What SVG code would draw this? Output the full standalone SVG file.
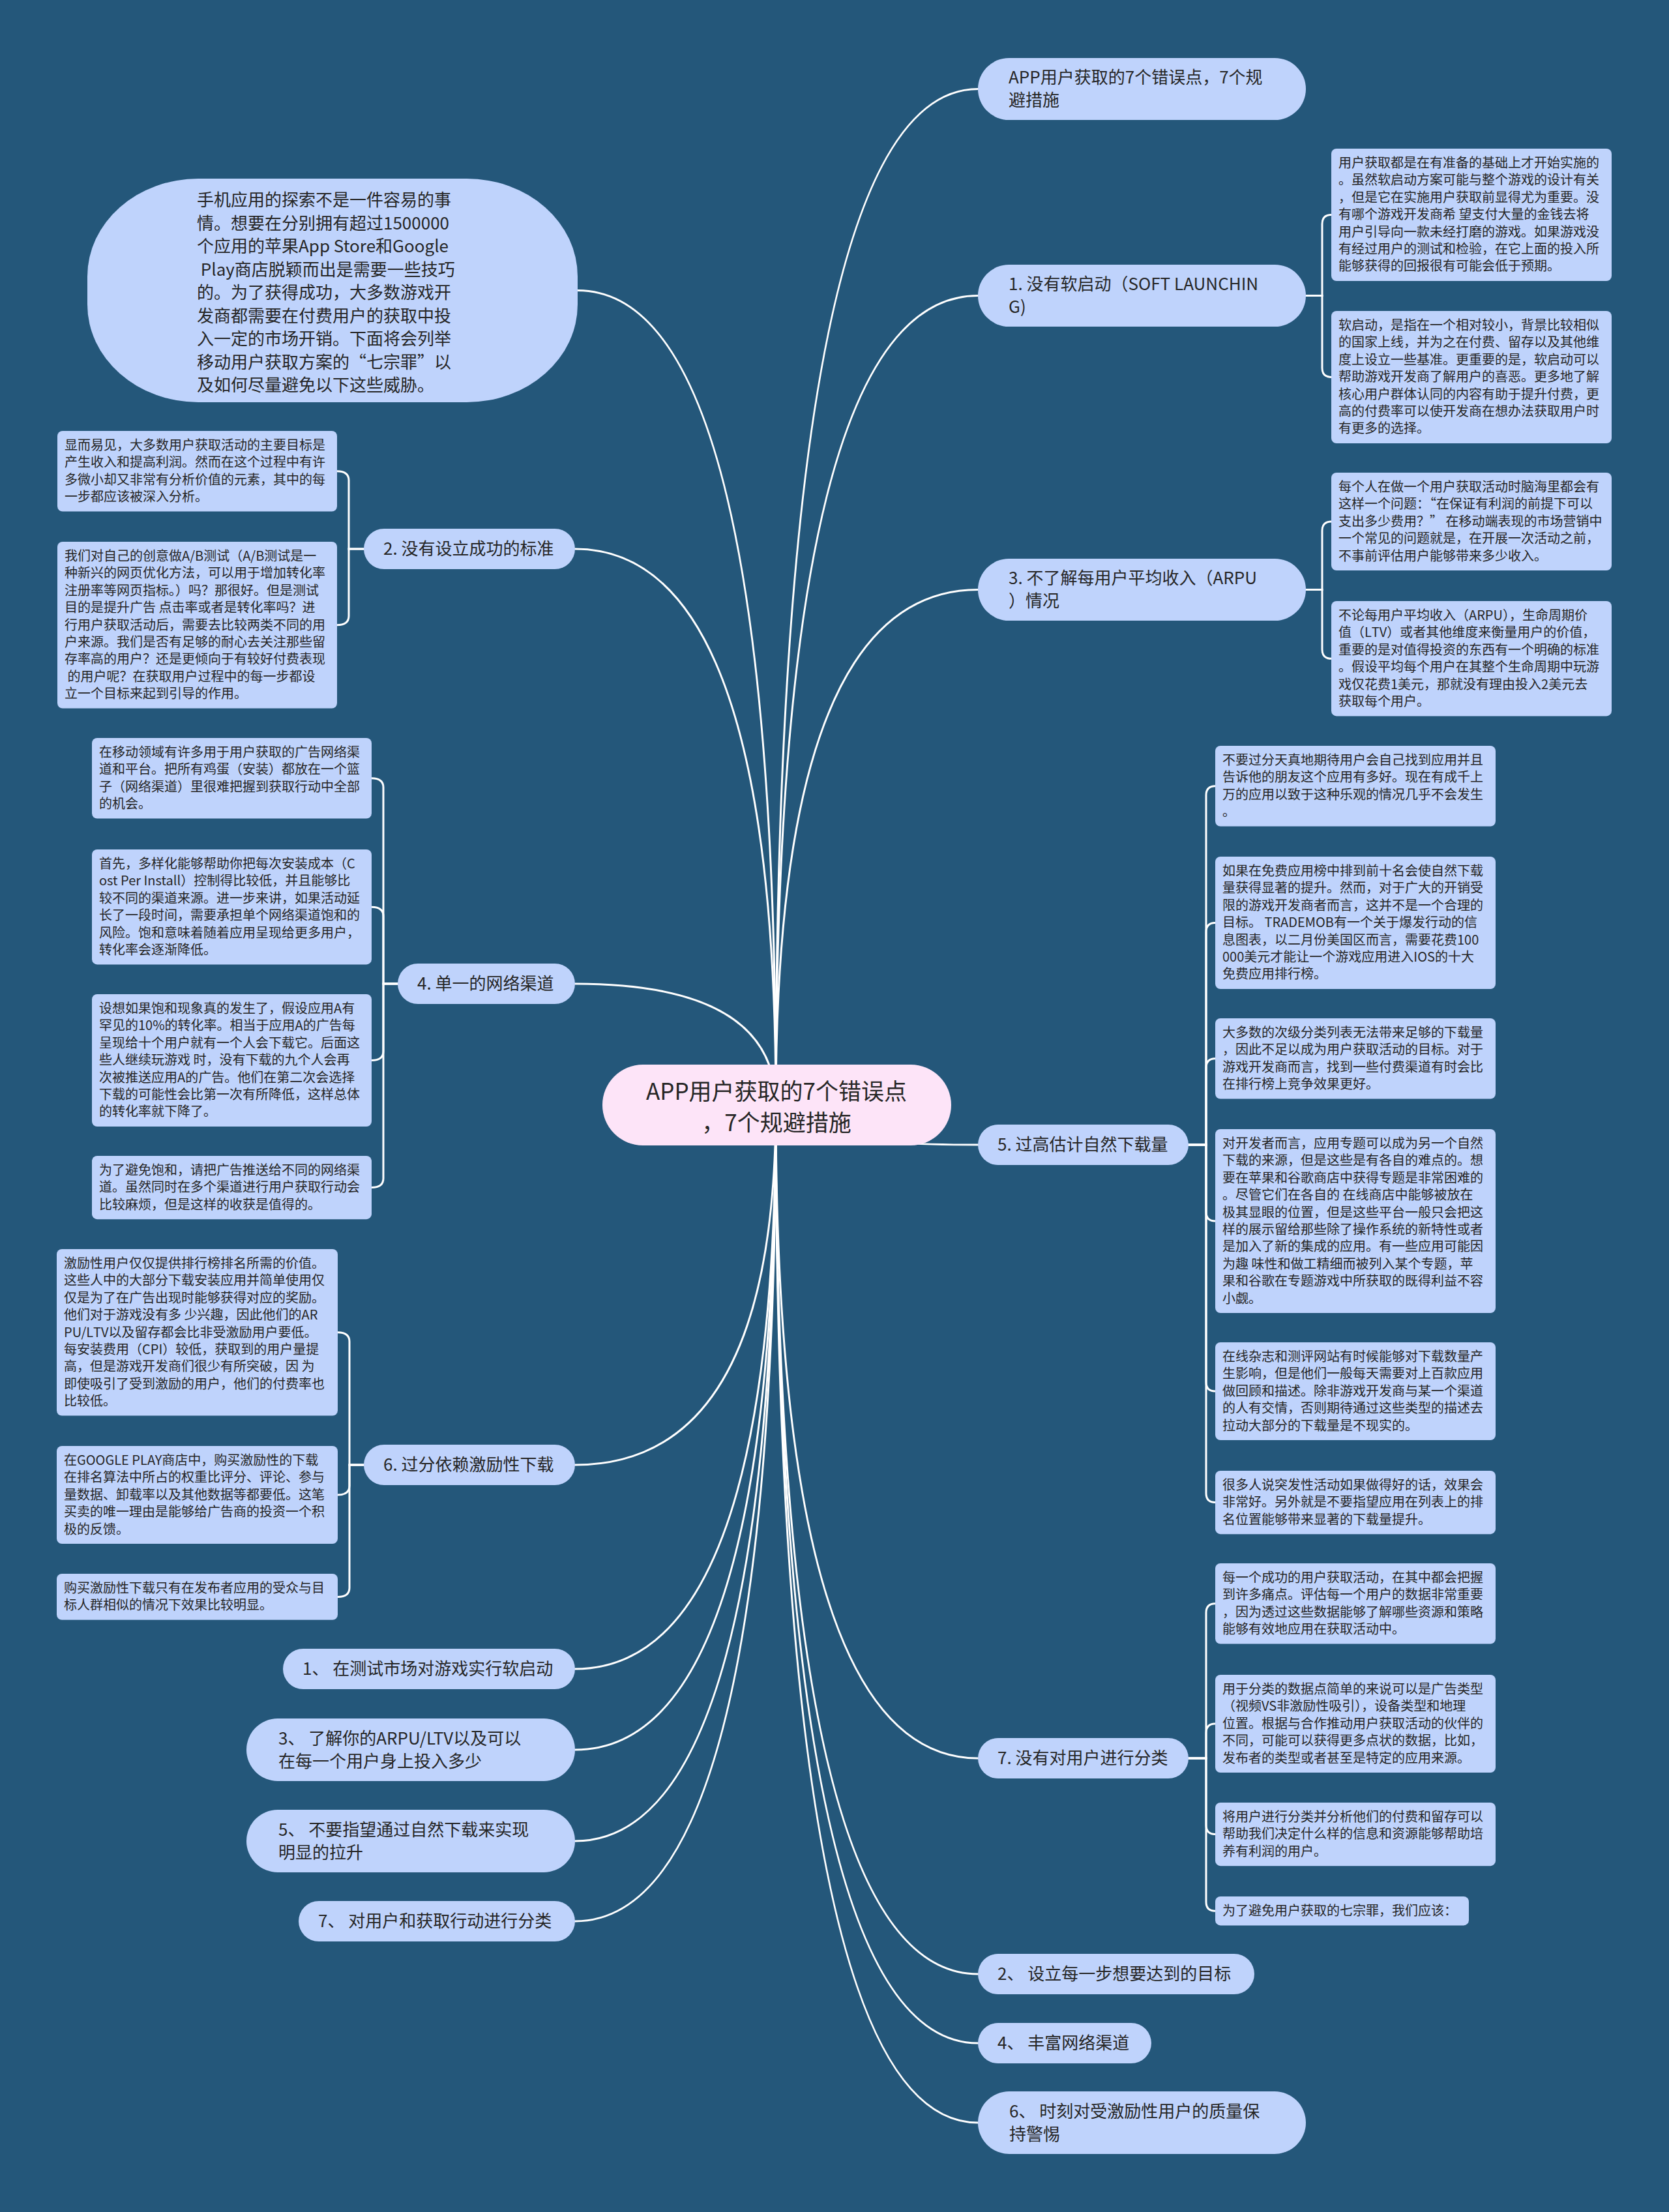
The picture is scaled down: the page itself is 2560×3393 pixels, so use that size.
<svg xmlns="http://www.w3.org/2000/svg" width="2560" height="3393" viewBox="0 0 2560 3393">
<style>
.box{fill:#bfd3fc}
.root{fill:#fde4f8}
.t{font-family:"Noto Sans CJK SC","Noto Sans",sans-serif;fill:#262626}
.lt{font-size:20px}
.mt{font-size:26px}
.rt{font-size:35px}
.c{fill:none;stroke:#ffffff;stroke-width:3;stroke-linecap:round}
</style>
<rect x="0" y="0" width="2560" height="3393" fill="#24577a"/>

<g id="connectors" class="c">
  <path d="M1190,1695 Q1190,136.5 1500,136.5"/>
  <path d="M1190,1695 Q1190,453.5 1500,453.5"/>
  <path d="M1190,1695 Q1190,904.5 1500,904.5"/>
  <path d="M1190,1695 Q1190,1756 1500,1756"/>
  <path d="M1190,1695 Q1190,2697 1500,2697"/>
  <path d="M1190,1695 Q1190,3028 1500,3028"/>
  <path d="M1190,1695 Q1190,3134 1500,3134"/>
  <path d="M1190,1695 Q1190,3256 1500,3256"/>
  <path d="M1190,1695 Q1190,445.5 886,445.5"/>
  <path d="M1190,1695 Q1190,842 882,842"/>
  <path d="M1190,1695 Q1190,1509 882,1509"/>
  <path d="M1190,1695 Q1190,2247 882,2247"/>
  <path d="M1190,1695 Q1190,2560 882,2560"/>
  <path d="M1190,1695 Q1190,2684 882,2684"/>
  <path d="M1190,1695 Q1190,2824 882,2824"/>
  <path d="M1190,1695 Q1190,2947 882,2947"/>

  <path d="M2003,453.5 H2028 V343.4 Q2028,329.4 2042,329.4"/>
  <path d="M2003,453.5 H2028 V564.4 Q2028,578.4 2042,578.4"/>
  <path d="M2003,904.5 H2028 V814 Q2028,800 2042,800"/>
  <path d="M2003,904.5 H2028 V996.2 Q2028,1010.2 2042,1010.2"/>

  <path d="M1823,1756 H1850 V1219.8 Q1850,1205.8 1864,1205.8"/>
  <path d="M1823,1756 H1850 V1429.4 Q1850,1415.4 1864,1415.4"/>
  <path d="M1823,1756 H1850 V1637.8 Q1850,1623.8 1864,1623.8"/>
  <path d="M1823,1756 H1850 V1859 Q1850,1873 1864,1873"/>
  <path d="M1823,1756 H1850 V2120 Q1850,2134 1864,2134"/>
  <path d="M1823,1756 H1850 V2290.6 Q1850,2304.6 1864,2304.6"/>

  <path d="M1823,2697 H1850 V2473.8 Q1850,2459.8 1864,2459.8"/>
  <path d="M1823,2697 H1850 V2658 Q1850,2644 1864,2644"/>
  <path d="M1823,2697 H1850 V2799.6 Q1850,2813.6 1864,2813.6"/>
  <path d="M1823,2697 H1850 V2917.2 Q1850,2931.2 1864,2931.2"/>

  <path d="M558,842 H535 V736.8 Q535,722.8 517,722.8"/>
  <path d="M558,842 H535 V944.8 Q535,958.8 517,958.8"/>

  <path d="M610,1509 H588 V1207.8 Q588,1193.8 570,1193.8"/>
  <path d="M610,1509 H588 V1405.2 Q588,1391.2 570,1391.2"/>
  <path d="M610,1509 H588 V1612.4 Q588,1626.4 570,1626.4"/>
  <path d="M610,1509 H588 V1807.6 Q588,1821.6 570,1821.6"/>

  <path d="M558,2247 H536 V2057.8 Q536,2043.8 518,2043.8"/>
  <path d="M558,2247 H536 V2279 Q536,2293 518,2293"/>
  <path d="M558,2247 H536 V2435.4 Q536,2449.4 518,2449.4"/>
</g>

<!-- root -->
<g id="root" transform="translate(924,1633)">
  <rect class="root" x="0" y="0" width="535" height="124" rx="62"/>
  <text class="t rt" text-anchor="middle"><tspan x="267" y="53.5">APP用户获取的7个错误点</tspan><tspan x="267" y="102">，7个规避措施</tspan></text>
</g>

<!-- right main nodes -->
<g id="n-title" transform="translate(1500,89)">
  <rect class="box" width="503" height="95" rx="47.5"/>
  <text class="t mt"><tspan x="47" y="39">APP用户获取的7个错误点，7个规</tspan><tspan x="47" y="74">避措施</tspan></text>
</g>
<g id="n1" transform="translate(1500,406)">
  <rect class="box" width="503" height="95" rx="47.5"/>
  <text class="t mt"><tspan x="47" y="39">1. 没有软启动（SOFT LAUNCHIN</tspan><tspan x="47" y="74">G)</tspan></text>
</g>
<g id="n3" transform="translate(1500,857)">
  <rect class="box" width="503" height="95" rx="47.5"/>
  <text class="t mt"><tspan x="47" y="39">3. 不了解每用户平均收入（ARPU</tspan><tspan x="47" y="74">）情况</tspan></text>
</g>
<g id="n5" transform="translate(1500,1725)">
  <rect class="box" width="323" height="62" rx="31"/>
  <text class="t mt" x="30" y="40">5. 过高估计自然下载量</text>
</g>
<g id="n7" transform="translate(1500,2666)">
  <rect class="box" width="323" height="62" rx="31"/>
  <text class="t mt" x="30" y="40">7. 没有对用户进行分类</text>
</g>
<g id="s2" transform="translate(1500,2997)">
  <rect class="box" width="424" height="62" rx="31"/>
  <text class="t mt" x="30" y="40">2、 设立每一步想要达到的目标</text>
</g>
<g id="s4" transform="translate(1500,3103)">
  <rect class="box" width="266" height="62" rx="31"/>
  <text class="t mt" x="30" y="40">4、 丰富网络渠道</text>
</g>
<g id="s6" transform="translate(1500,3208)">
  <rect class="box" width="503" height="96" rx="48"/>
  <text class="t mt"><tspan x="48" y="39.5">6、 时刻对受激励性用户的质量保</tspan><tspan x="48" y="74.5">持警惕</tspan></text>
</g>

<!-- left main nodes -->
<g id="intro" transform="translate(134,274)">
  <rect class="box" width="752" height="343" rx="170" ry="150"/>
  <text class="t mt" xml:space="preserve"><tspan x="168" y="42">手机应用的探索不是一件容易的事</tspan><tspan x="168" y="77.5">情。想要在分别拥有超过1500000</tspan><tspan x="168" y="113">个应用的苹果App Store和Google</tspan><tspan x="168" y="148.5"> Play商店脱颖而出是需要一些技巧</tspan><tspan x="168" y="184">的。为了获得成功，大多数游戏开</tspan><tspan x="168" y="219.5">发商都需要在付费用户的获取中投</tspan><tspan x="168" y="255">入一定的市场开销。下面将会列举</tspan><tspan x="168" y="290.5">移动用户获取方案的“七宗罪”以</tspan><tspan x="168" y="326">及如何尽量避免以下这些威胁。</tspan></text>
</g>
<g id="n2" transform="translate(558,811)">
  <rect class="box" width="324" height="62" rx="31"/>
  <text class="t mt" x="30" y="40">2. 没有设立成功的标准</text>
</g>
<g id="n4" transform="translate(610,1478)">
  <rect class="box" width="272" height="62" rx="31"/>
  <text class="t mt" x="30" y="40">4. 单一的网络渠道</text>
</g>
<g id="n6" transform="translate(558,2216)">
  <rect class="box" width="324" height="62" rx="31"/>
  <text class="t mt" x="30" y="40">6. 过分依赖激励性下载</text>
</g>
<g id="s1" transform="translate(434,2529)">
  <rect class="box" width="448" height="62" rx="31"/>
  <text class="t mt" x="30" y="40">1、 在测试市场对游戏实行软启动</text>
</g>
<g id="s3" transform="translate(378,2636)">
  <rect class="box" width="504" height="96" rx="48"/>
  <text class="t mt"><tspan x="49" y="39.5">3、 了解你的ARPU/LTV以及可以</tspan><tspan x="49" y="74.5">在每一个用户身上投入多少</tspan></text>
</g>
<g id="s5" transform="translate(378,2776)">
  <rect class="box" width="504" height="96" rx="48"/>
  <text class="t mt"><tspan x="49" y="39.5">5、 不要指望通过自然下载来实现</tspan><tspan x="49" y="74.5">明显的拉升</tspan></text>
</g>
<g id="s7" transform="translate(458,2916)">
  <rect class="box" width="424" height="62" rx="31"/>
  <text class="t mt" x="30" y="40">7、 对用户和获取行动进行分类</text>
</g>

<!-- leaves of 1 -->
<g id="l1a" transform="translate(2042,228)">
  <rect class="box" width="430" height="203" rx="8"/>
  <text class="t lt"><tspan x="11" y="29">用户获取都是在有准备的基础上才开始实施的</tspan><tspan x="11" y="55.4">。虽然软启动方案可能与整个游戏的设计有关</tspan><tspan x="11" y="81.8">，但是它在实施用户获取前显得尤为重要。没</tspan><tspan x="11" y="108.2">有哪个游戏开发商希 望支付大量的金钱去将</tspan><tspan x="11" y="134.6">用户引导向一款未经打磨的游戏。如果游戏没</tspan><tspan x="11" y="161">有经过用户的测试和检验，在它上面的投入所</tspan><tspan x="11" y="187.4">能够获得的回报很有可能会低于预期。</tspan></text>
</g>
<g id="l1b" transform="translate(2042,477)">
  <rect class="box" width="430" height="203" rx="8"/>
  <text class="t lt"><tspan x="11" y="29">软启动，是指在一个相对较小，背景比较相似</tspan><tspan x="11" y="55.4">的国家上线，并为之在付费、留存以及其他维</tspan><tspan x="11" y="81.8">度上设立一些基准。更重要的是，软启动可以</tspan><tspan x="11" y="108.2">帮助游戏开发商了解用户的喜恶。更多地了解</tspan><tspan x="11" y="134.6">核心用户群体认同的内容有助于提升付费，更</tspan><tspan x="11" y="161">高的付费率可以使开发商在想办法获取用户时</tspan><tspan x="11" y="187.4">有更多的选择。</tspan></text>
</g>

<!-- leaves of 3 -->
<g id="l3a" transform="translate(2042,725)">
  <rect class="box" width="430" height="150" rx="8"/>
  <text class="t lt"><tspan x="11" y="29">每个人在做一个用户获取活动时脑海里都会有</tspan><tspan x="11" y="55.4">这样一个问题：“在保证有利润的前提下可以</tspan><tspan x="11" y="81.8">支出多少费用？” 在移动端表现的市场营销中</tspan><tspan x="11" y="108.2">一个常见的问题就是，在开展一次活动之前，</tspan><tspan x="11" y="134.6">不事前评估用户能够带来多少收入。</tspan></text>
</g>
<g id="l3b" transform="translate(2042,922)">
  <rect class="box" width="430" height="176.4" rx="8"/>
  <text class="t lt"><tspan x="11" y="29">不论每用户平均收入（ARPU），生命周期价</tspan><tspan x="11" y="55.4">值（LTV）或者其他维度来衡量用户的价值，</tspan><tspan x="11" y="81.8">重要的是对值得投资的东西有一个明确的标准</tspan><tspan x="11" y="108.2">。假设平均每个用户在其整个生命周期中玩游</tspan><tspan x="11" y="134.6">戏仅花费1美元，那就没有理由投入2美元去</tspan><tspan x="11" y="161">获取每个用户。</tspan></text>
</g>

<!-- leaves of 2 -->
<g id="l2a" transform="translate(88,661)">
  <rect class="box" width="429" height="123.6" rx="8"/>
  <text class="t lt"><tspan x="11" y="29">显而易见，大多数用户获取活动的主要目标是</tspan><tspan x="11" y="55.4">产生收入和提高利润。然而在这个过程中有许</tspan><tspan x="11" y="81.8">多微小却又非常有分析价值的元素，其中的每</tspan><tspan x="11" y="108.2">一步都应该被深入分析。</tspan></text>
</g>
<g id="l2b" transform="translate(88,831)">
  <rect class="box" width="429" height="255.6" rx="8"/>
  <text class="t lt" xml:space="preserve"><tspan x="11" y="29">我们对自己的创意做A/B测试（A/B测试是一</tspan><tspan x="11" y="55.4">种新兴的网页优化方法，可以用于增加转化率</tspan><tspan x="11" y="81.8">注册率等网页指标。）吗？那很好。但是测试</tspan><tspan x="11" y="108.2">目的是提升广告 点击率或者是转化率吗？进</tspan><tspan x="11" y="134.6">行用户获取活动后，需要去比较两类不同的用</tspan><tspan x="11" y="161">户来源。我们是否有足够的耐心去关注那些留</tspan><tspan x="11" y="187.4">存率高的用户？还是更倾向于有较好付费表现</tspan><tspan x="11" y="213.8"> 的用户呢？在获取用户过程中的每一步都设</tspan><tspan x="11" y="240.2">立一个目标来起到引导的作用。</tspan></text>
</g>

<!-- leaves of 4 -->
<g id="l4a" transform="translate(141,1132)">
  <rect class="box" width="429" height="123.6" rx="8"/>
  <text class="t lt"><tspan x="11" y="29">在移动领域有许多用于用户获取的广告网络渠</tspan><tspan x="11" y="55.4">道和平台。把所有鸡蛋（安装）都放在一个篮</tspan><tspan x="11" y="81.8">子（网络渠道）里很难把握到获取行动中全部</tspan><tspan x="11" y="108.2">的机会。</tspan></text>
</g>
<g id="l4b" transform="translate(141,1303)">
  <rect class="box" width="429" height="176.4" rx="8"/>
  <text class="t lt"><tspan x="11" y="29">首先，多样化能够帮助你把每次安装成本（C</tspan><tspan x="11" y="55.4">ost Per Install）控制得比较低，并且能够比</tspan><tspan x="11" y="81.8">较不同的渠道来源。进一步来讲，如果活动延</tspan><tspan x="11" y="108.2">长了一段时间，需要承担单个网络渠道饱和的</tspan><tspan x="11" y="134.6">风险。饱和意味着随着应用呈现给更多用户，</tspan><tspan x="11" y="161">转化率会逐渐降低。</tspan></text>
</g>
<g id="l4c" transform="translate(141,1525)">
  <rect class="box" width="429" height="203" rx="8"/>
  <text class="t lt"><tspan x="11" y="29">设想如果饱和现象真的发生了，假设应用A有</tspan><tspan x="11" y="55.4">罕见的10%的转化率。相当于应用A的广告每</tspan><tspan x="11" y="81.8">呈现给十个用户就有一个人会下载它。后面这</tspan><tspan x="11" y="108.2">些人继续玩游戏 时，没有下载的九个人会再</tspan><tspan x="11" y="134.6">次被推送应用A的广告。他们在第二次会选择</tspan><tspan x="11" y="161">下载的可能性会比第一次有所降低，这样总体</tspan><tspan x="11" y="187.4">的转化率就下降了。</tspan></text>
</g>
<g id="l4d" transform="translate(141,1773)">
  <rect class="box" width="429" height="97.2" rx="8"/>
  <text class="t lt"><tspan x="11" y="29">为了避免饱和，请把广告推送给不同的网络渠</tspan><tspan x="11" y="55.4">道。虽然同时在多个渠道进行用户获取行动会</tspan><tspan x="11" y="81.8">比较麻烦，但是这样的收获是值得的。</tspan></text>
</g>

<!-- leaves of 5 -->
<g id="l5a" transform="translate(1864,1144)">
  <rect class="box" width="430" height="123.6" rx="8"/>
  <text class="t lt"><tspan x="11" y="29">不要过分天真地期待用户会自己找到应用并且</tspan><tspan x="11" y="55.4">告诉他的朋友这个应用有多好。现在有成千上</tspan><tspan x="11" y="81.8">万的应用以致于这种乐观的情况几乎不会发生</tspan><tspan x="11" y="108.2">。</tspan></text>
</g>
<g id="l5b" transform="translate(1864,1314)">
  <rect class="box" width="430" height="203" rx="8"/>
  <text class="t lt"><tspan x="11" y="29">如果在免费应用榜中排到前十名会使自然下载</tspan><tspan x="11" y="55.4">量获得显著的提升。然而，对于广大的开销受</tspan><tspan x="11" y="81.8">限的游戏开发商者而言，这并不是一个合理的</tspan><tspan x="11" y="108.2">目标。 TRADEMOB有一个关于爆发行动的信</tspan><tspan x="11" y="134.6">息图表，以二月份美国区而言，需要花费100</tspan><tspan x="11" y="161">000美元才能让一个游戏应用进入IOS的十大</tspan><tspan x="11" y="187.4">免费应用排行榜。</tspan></text>
</g>
<g id="l5c" transform="translate(1864,1562)">
  <rect class="box" width="430" height="123.6" rx="8"/>
  <text class="t lt"><tspan x="11" y="29">大多数的次级分类列表无法带来足够的下载量</tspan><tspan x="11" y="55.4">，因此不足以成为用户获取活动的目标。对于</tspan><tspan x="11" y="81.8">游戏开发商而言，找到一些付费渠道有时会比</tspan><tspan x="11" y="108.2">在排行榜上竞争效果更好。</tspan></text>
</g>
<g id="l5d" transform="translate(1864,1732)">
  <rect class="box" width="430" height="282" rx="8"/>
  <text class="t lt"><tspan x="11" y="29">对开发者而言，应用专题可以成为另一个自然</tspan><tspan x="11" y="55.4">下载的来源，但是这些是有各自的难点的。想</tspan><tspan x="11" y="81.8">要在苹果和谷歌商店中获得专题是非常困难的</tspan><tspan x="11" y="108.2">。尽管它们在各自的 在线商店中能够被放在</tspan><tspan x="11" y="134.6">极其显眼的位置，但是这些平台一般只会把这</tspan><tspan x="11" y="161">样的展示留给那些除了操作系统的新特性或者</tspan><tspan x="11" y="187.4">是加入了新的集成的应用。有一些应用可能因</tspan><tspan x="11" y="213.8">为趣 味性和做工精细而被列入某个专题，苹</tspan><tspan x="11" y="240.2">果和谷歌在专题游戏中所获取的既得利益不容</tspan><tspan x="11" y="266.6">小觑。</tspan></text>
</g>
<g id="l5e" transform="translate(1864,2059)">
  <rect class="box" width="430" height="150" rx="8"/>
  <text class="t lt"><tspan x="11" y="29">在线杂志和测评网站有时候能够对下载数量产</tspan><tspan x="11" y="55.4">生影响，但是他们一般每天需要对上百款应用</tspan><tspan x="11" y="81.8">做回顾和描述。除非游戏开发商与某一个渠道</tspan><tspan x="11" y="108.2">的人有交情，否则期待通过这些类型的描述去</tspan><tspan x="11" y="134.6">拉动大部分的下载量是不现实的。</tspan></text>
</g>
<g id="l5f" transform="translate(1864,2256)">
  <rect class="box" width="430" height="97.2" rx="8"/>
  <text class="t lt"><tspan x="11" y="29">很多人说突发性活动如果做得好的话，效果会</tspan><tspan x="11" y="55.4">非常好。另外就是不要指望应用在列表上的排</tspan><tspan x="11" y="81.8">名位置能够带来显著的下载量提升。</tspan></text>
</g>

<!-- leaves of 6 -->
<g id="l6a" transform="translate(87,1916)">
  <rect class="box" width="431" height="255.6" rx="8"/>
  <text class="t lt"><tspan x="11" y="29">激励性用户仅仅提供排行榜排名所需的价值。</tspan><tspan x="11" y="55.4">这些人中的大部分下载安装应用并简单使用仅</tspan><tspan x="11" y="81.8">仅是为了在广告出现时能够获得对应的奖励。</tspan><tspan x="11" y="108.2">他们对于游戏没有多 少兴趣，因此他们的AR</tspan><tspan x="11" y="134.6">PU/LTV以及留存都会比非受激励用户要低。</tspan><tspan x="11" y="161">每安装费用（CPI）较低，获取到的用户量提</tspan><tspan x="11" y="187.4">高，但是游戏开发商们很少有所突破，因 为</tspan><tspan x="11" y="213.8">即使吸引了受到激励的用户，他们的付费率也</tspan><tspan x="11" y="240.2">比较低。</tspan></text>
</g>
<g id="l6b" transform="translate(87,2218)">
  <rect class="box" width="431" height="150" rx="8"/>
  <text class="t lt"><tspan x="11" y="29">在GOOGLE PLAY商店中，购买激励性的下载</tspan><tspan x="11" y="55.4">在排名算法中所占的权重比评分、评论、参与</tspan><tspan x="11" y="81.8">量数据、卸载率以及其他数据等都要低。这笔</tspan><tspan x="11" y="108.2">买卖的唯一理由是能够给广告商的投资一个积</tspan><tspan x="11" y="134.6">极的反馈。</tspan></text>
</g>
<g id="l6c" transform="translate(87,2414)">
  <rect class="box" width="431" height="70.8" rx="8"/>
  <text class="t lt"><tspan x="11" y="29">购买激励性下载只有在发布者应用的受众与目</tspan><tspan x="11" y="55.4">标人群相似的情况下效果比较明显。</tspan></text>
</g>

<!-- leaves of 7 -->
<g id="l7a" transform="translate(1864,2398)">
  <rect class="box" width="430" height="123.6" rx="8"/>
  <text class="t lt"><tspan x="11" y="29">每一个成功的用户获取活动，在其中都会把握</tspan><tspan x="11" y="55.4">到许多痛点。评估每一个用户的数据非常重要</tspan><tspan x="11" y="81.8">，因为透过这些数据能够了解哪些资源和策略</tspan><tspan x="11" y="108.2">能够有效地应用在获取活动中。</tspan></text>
</g>
<g id="l7b" transform="translate(1864,2569)">
  <rect class="box" width="430" height="150" rx="8"/>
  <text class="t lt"><tspan x="11" y="29">用于分类的数据点简单的来说可以是广告类型</tspan><tspan x="11" y="55.4">（视频VS非激励性吸引），设备类型和地理</tspan><tspan x="11" y="81.8">位置。根据与合作推动用户获取活动的伙伴的</tspan><tspan x="11" y="108.2">不同，可能可以获得更多点状的数据，比如，</tspan><tspan x="11" y="134.6">发布者的类型或者甚至是特定的应用来源。</tspan></text>
</g>
<g id="l7c" transform="translate(1864,2765)">
  <rect class="box" width="430" height="97.2" rx="8"/>
  <text class="t lt"><tspan x="11" y="29">将用户进行分类并分析他们的付费和留存可以</tspan><tspan x="11" y="55.4">帮助我们决定什么样的信息和资源能够帮助培</tspan><tspan x="11" y="81.8">养有利润的用户。</tspan></text>
</g>
<g id="l7d" transform="translate(1864,2909)">
  <rect class="box" width="389" height="44.4" rx="8"/>
  <text class="t lt" x="11" y="29">为了避免用户获取的七宗罪，我们应该：</text>
</g>
</svg>
